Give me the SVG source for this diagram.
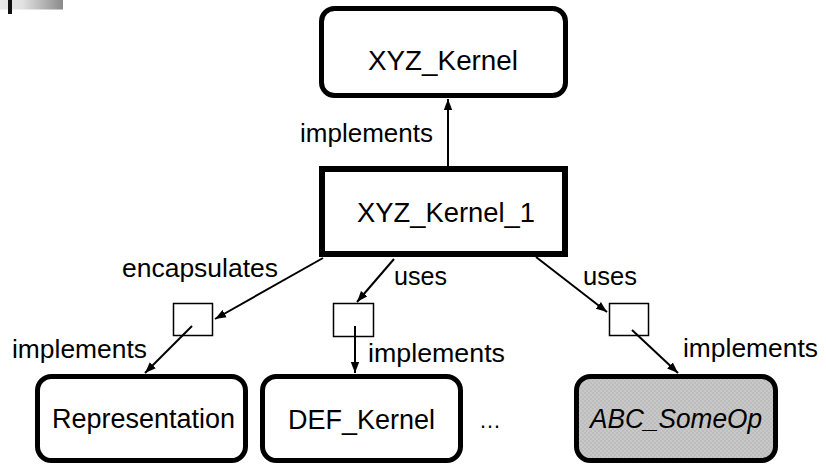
<svg xmlns="http://www.w3.org/2000/svg" width="826" height="464" viewBox="0 0 826 464">
<defs>
<linearGradient id="bar" x1="0" y1="0" x2="1" y2="0">
<stop offset="0" stop-color="#e8e8e8"/>
<stop offset="0.35" stop-color="#e2e2e2"/>
<stop offset="1" stop-color="#8a8a8a"/>
</linearGradient>
<marker id="ah" markerUnits="userSpaceOnUse" markerWidth="12" markerHeight="10" refX="11" refY="5" orient="auto">
<path d="M0,0.8 L11,5 L0,9.2 z" fill="#000"/>
</marker>
<pattern id="chk" width="4" height="4" patternUnits="userSpaceOnUse">
<rect width="4" height="4" fill="#c8c8c8"/>
<rect width="2" height="2" fill="#bdbdbd"/>
<rect x="2" y="2" width="2" height="2" fill="#bdbdbd"/>
</pattern>
</defs>
<style>
text { font-family: "Liberation Sans", Arial, sans-serif; fill: #000; }
.node { font-size: 27px; text-anchor: middle; }
.lbl { font-size: 25px; }
.rbox { fill: #fff; stroke: #000; stroke-width: 5; }
.sbox { fill: #fff; stroke: #000; stroke-width: 1.5; }
.conn { stroke: #000; stroke-width: 2; fill: none; marker-end: url(#ah); }
</style>
<rect width="826" height="464" fill="#fff"/>
<rect x="0" y="0" width="63" height="9.5" fill="url(#bar)"/>
<rect x="8" y="0" width="4" height="14" fill="#111"/>

<g id="xyz_kernel">
<rect class="rbox" x="321.5" y="8.5" width="244" height="87" rx="13"/>
<text class="node" x="443" y="70" font-size="31" textLength="150" lengthAdjust="spacingAndGlyphs">XYZ_Kernel</text>
</g>
<g id="xyz_kernel_1">
<rect x="322" y="169" width="243" height="85" fill="#fff" stroke="#000" stroke-width="6"/>
<text class="node" x="446" y="222" font-size="28" textLength="178" lengthAdjust="spacingAndGlyphs">XYZ_Kernel_1</text>
</g>
<g id="rep_slot"><rect class="sbox" x="173.5" y="303.5" width="39" height="32"/></g>
<g id="def_slot"><rect class="sbox" x="333.5" y="303.5" width="40" height="33"/></g>
<g id="abc_slot"><rect class="sbox" x="609.5" y="303.5" width="39" height="32"/></g>
<g id="representation">
<rect class="rbox" x="37.5" y="376.5" width="208" height="84" rx="14"/>
<text class="node" x="143.5" y="428" textLength="183" lengthAdjust="spacingAndGlyphs">Representation</text>
</g>
<g id="def_kernel">
<rect class="rbox" x="262.5" y="376.5" width="198" height="84" rx="14"/>
<text class="node" x="361.5" y="429" textLength="147" lengthAdjust="spacingAndGlyphs">DEF_Kernel</text>
</g>
<g id="ellipsis">
<text x="490" y="428" font-size="22" text-anchor="middle">…</text>
</g>
<g id="abc_someop">
<rect x="576.5" y="376.5" width="199" height="84" rx="14" fill="url(#chk)" stroke="#000" stroke-width="5"/>
<text class="node" x="676" y="428" font-style="italic" textLength="172" lengthAdjust="spacingAndGlyphs">ABC_SomeOp</text>
</g>

<g id="connectors">
<line class="conn" x1="448" y1="166" x2="448" y2="99"/>
<line class="conn" x1="323" y1="258" x2="215" y2="319"/>
<line class="conn" x1="394" y1="259" x2="357" y2="302"/>
<line class="conn" x1="536" y1="257" x2="607" y2="312"/>
<line class="conn" x1="192" y1="326" x2="145" y2="373"/>
<line class="conn" x1="355" y1="326" x2="355" y2="373"/>
<line class="conn" x1="632" y1="330" x2="678" y2="373"/>
</g>
<g id="labels">
<text class="lbl" x="300" y="142" textLength="133" lengthAdjust="spacingAndGlyphs">implements</text>
<text class="lbl" x="122" y="277" textLength="156" lengthAdjust="spacingAndGlyphs">encapsulates</text>
<text class="lbl" x="394" y="285" textLength="53" lengthAdjust="spacingAndGlyphs">uses</text>
<text class="lbl" x="583" y="285" textLength="54" lengthAdjust="spacingAndGlyphs">uses</text>
<text class="lbl" x="12" y="358" textLength="135" lengthAdjust="spacingAndGlyphs">implements</text>
<text class="lbl" x="368" y="362" textLength="137" lengthAdjust="spacingAndGlyphs">implements</text>
<text class="lbl" x="683" y="357" textLength="135" lengthAdjust="spacingAndGlyphs">implements</text>
</g>
</svg>
